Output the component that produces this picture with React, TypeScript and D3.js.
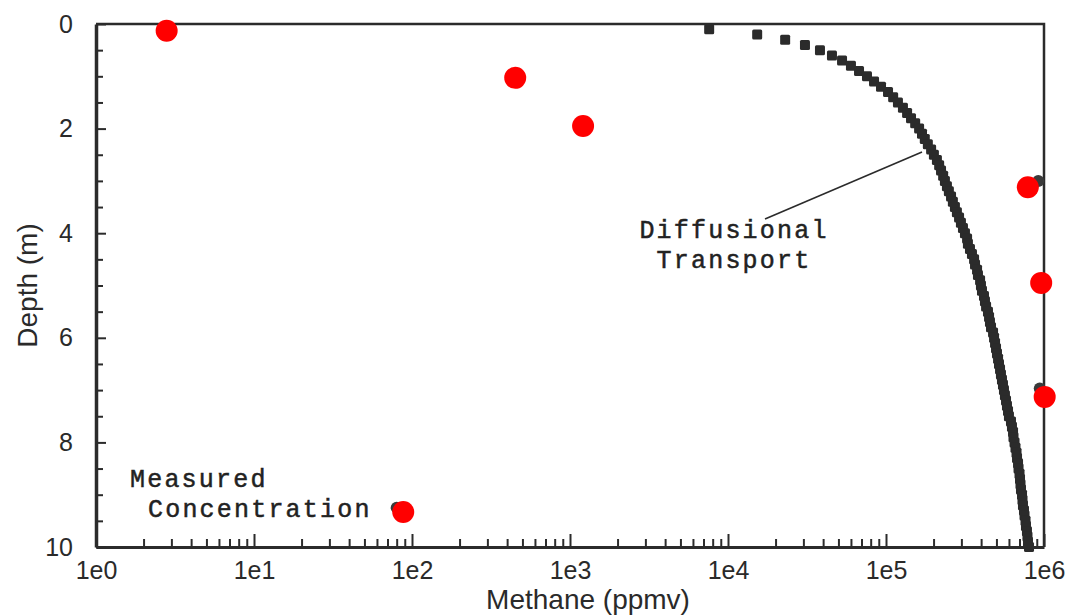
import React, { useRef, useEffect } from "react";
import * as d3 from "d3";

// diffusional transport model: [depth (m), methane (ppmv)]
const modelProfile: [number, number][] = [
  [0.1, 7600], [0.2, 15300], [0.3, 23000], [0.4, 30700], [0.5, 38200],
  [0.6, 45500], [0.7, 52700], [0.8, 60000], [0.9, 67500], [1.0, 75800],
  [1.1, 84000], [1.2, 93000], [1.3, 103000], [1.4, 111000], [1.5, 119000],
  [1.6, 128000], [1.7, 136000], [1.8, 144000], [1.9, 153000], [2.0, 162000],
  [2.1, 169000], [2.2, 176000], [2.3, 184000], [2.4, 193000], [2.5, 201000],
  [2.6, 210000], [2.7, 217000], [2.8, 223000], [2.9, 230000], [3.0, 236000],
  [3.1, 243000], [3.2, 250000], [3.3, 258000], [3.4, 265000], [3.5, 273000],
  [3.6, 281000], [3.7, 290000], [3.8, 298000], [3.9, 307000], [4.0, 316000],
  [4.1, 326000], [4.2, 330000], [4.3, 340000], [4.4, 350000], [4.5, 361000],
  [4.6, 366000], [4.7, 377000], [4.8, 382000], [4.9, 394000], [5.0, 399000],
  [5.1, 405000], [5.2, 417000], [5.3, 423000], [5.4, 430000], [5.5, 442000],
  [5.6, 449000], [5.7, 455000], [5.8, 462000], [5.9, 476000], [6.0, 483000],
  [6.1, 490000], [6.2, 497000], [6.3, 504000], [6.4, 512000], [6.5, 519000],
  [6.6, 527000], [6.7, 534000], [6.8, 542000], [6.9, 550000], [7.0, 558000],
  [7.1, 566000], [7.2, 575000], [7.3, 583000], [7.4, 592000], [7.5, 600000],
  [7.6, 618000], [7.7, 627000], [7.8, 637000], [7.9, 641000], [8.0, 651000],
  [8.1, 660000], [8.2, 670000], [8.3, 675000], [8.4, 685000], [8.5, 690000],
  [8.6, 700000], [8.7, 705000], [8.8, 710000], [8.9, 715000], [9.0, 726000],
  [9.1, 731000], [9.2, 736000], [9.3, 747000], [9.4, 753000], [9.5, 764000],
  [9.6, 769000], [9.7, 780000], [9.8, 786000], [9.9, 792000], [10.0, 804000],
];

// measured concentrations (red) and the original dark markers under them
const measuredMethane = [2.8, 450, 1210, 790000, 960000, 1010000, 88];
const measuredDepth = [0.13, 1.03, 1.95, 3.12, 4.95, 7.13, 9.33];
const hiddenMethane = [80, 920000, 940000];
const hiddenDepth = [9.25, 3.0, 6.97];

const decadeTicks = [1, 10, 100, 1000, 10000, 100000, 1000000];
const depthTicks = [0, 2, 4, 6, 8, 10];

const W = 1072;
const H = 616;

const App = () => {
  const ref = useRef<SVGSVGElement | null>(null);

  useEffect(() => {
    if (!ref.current) return;
    const svg = d3.select(ref.current);
    svg.selectAll("*").remove();

    const margin = { top: 24, right: 28, bottom: 69, left: 96 };
    const ink = "#2b2b2b";

    const x = d3
      .scaleLog()
      .domain([1, 1e6])
      .range([margin.left, W - margin.right]);
    const y = d3
      .scaleLinear()
      .domain([0, 10])
      .range([margin.top, H - margin.bottom]);

    svg.append("rect").attr("width", W).attr("height", H).attr("fill", "#fff");

    // minor x ticks 2..9 per decade
    const minorX: number[] = [];
    decadeTicks.slice(0, -1).forEach((d) => {
      for (let k = 2; k <= 9; k++) minorX.push(d * k);
    });
    const minorY = d3.range(0.5, 10, 0.5).filter((v) => !depthTicks.includes(v));

    const bottom = svg
      .append("g")
      .attr("transform", `translate(0,${y(10)})`);
    bottom
      .append("g")
      .call(d3.axisBottom(x).tickValues(minorX).tickSize(-8).tickSizeOuter(0).tickFormat(() => ""))
      .call((g) => g.select(".domain").remove());
    bottom
      .append("g")
      .call(
        d3
          .axisBottom(x)
          .tickValues(decadeTicks)
          .tickSize(-13)
          .tickSizeOuter(0)
          .tickPadding(14)
          .tickFormat((d) => `1e${Math.round(Math.log10(+d))}`)
      )
      .call((g) => g.select(".domain").attr("stroke-width", 3));

    const left = svg.append("g").attr("transform", `translate(${x(1)},0)`);
    left
      .append("g")
      .call(d3.axisLeft(y).tickValues(minorY).tickSize(-7).tickSizeOuter(0).tickFormat(() => ""))
      .call((g) => g.select(".domain").remove());
    left
      .append("g")
      .call(
        d3
          .axisLeft(y)
          .tickValues(depthTicks)
          .tickSize(-10)
          .tickSizeOuter(0)
          .tickPadding(23)
          .tickFormat((d) => `${d}`)
      )
      .call((g) => g.select(".domain").attr("stroke-width", 3.5));

    svg
      .selectAll(".tick line")
      .attr("stroke", ink)
      .attr("stroke-width", 2);
    svg.selectAll(".domain").attr("stroke", ink);
    svg
      .selectAll(".tick text")
      .attr("fill", "#2a2a2a")
      .style("font-family", "Liberation Sans, Arial, sans-serif")
      .style("font-size", "25px");

    // top and right frame
    svg
      .append("path")
      .attr("d", `M${x(1)},${y(0)}H${x(1e6)}V${y(10)}`)
      .attr("fill", "none")
      .attr("stroke", ink)
      .attr("stroke-width", 2.5);

    // axis titles
    svg
      .append("text")
      .attr("transform", `translate(37,${(y(0) + y(10)) / 2}) rotate(-90)`)
      .attr("text-anchor", "middle")
      .style("font-family", "Liberation Sans, Arial, sans-serif")
      .style("font-size", "28px")
      .attr("fill", "#2a2a2a")
      .text("Depth (m)");
    svg
      .append("text")
      .attr("x", 588)
      .attr("y", 609)
      .attr("text-anchor", "middle")
      .style("font-family", "Liberation Sans, Arial, sans-serif")
      .style("font-size", "28px")
      .attr("fill", "#2a2a2a")
      .text("Methane (ppmv)");

    // model squares
    const sq = 10;
    svg
      .append("g")
      .selectAll("rect")
      .data(modelProfile)
      .enter()
      .append("rect")
      .attr("x", (d) => x(d[1]) - sq / 2)
      .attr("y", (d) => y(d[0]) - sq / 2)
      .attr("width", sq)
      .attr("height", sq)
      .attr("rx", 1.5)
      .attr("fill", ink);

    // leader line
    svg
      .append("line")
      .attr("x1", 922)
      .attr("y1", 152)
      .attr("x2", 765)
      .attr("y2", 219)
      .attr("stroke", ink)
      .attr("stroke-width", 1.6);

    const mono = (t: string, px: number, py: number, anchor: string) =>
      svg
        .append("text")
        .attr("x", px)
        .attr("y", py)
        .attr("text-anchor", anchor)
        .style("font-family", "Liberation Mono, Courier New, monospace")
        .style("font-size", "25px")
        .style("letter-spacing", "2.2px")
        .attr("fill", "#222")
        .attr("stroke", "#222")
        .attr("stroke-width", 0.5)
        .text(t);
    mono("Diffusional", 734, 238, "middle");
    mono("Transport", 734, 268, "middle");
    mono("Measured", 130, 487, "start");
    mono("Concentration", 148, 517, "start");

    // hidden dark markers
    svg
      .append("g")
      .selectAll("circle")
      .data(hiddenMethane)
      .enter()
      .append("circle")
      .attr("cx", (d) => x(d))
      .attr("cy", (d, i) => y(hiddenDepth[i]))
      .attr("r", 6)
      .attr("fill", "#3a3a3a");

    // measured points
    svg
      .append("g")
      .selectAll("circle")
      .data(measuredMethane)
      .enter()
      .append("circle")
      .attr("cx", (d) => x(d))
      .attr("cy", (d, i) => y(measuredDepth[i]))
      .attr("r", 11)
      .attr("fill", "#ff0000");
  }, []);

  return (
    <svg
      ref={ref}
      width={W}
      height={H}
      style={{ position: "absolute", left: 0, top: 0 }}
    />
  );
};

export default App;
